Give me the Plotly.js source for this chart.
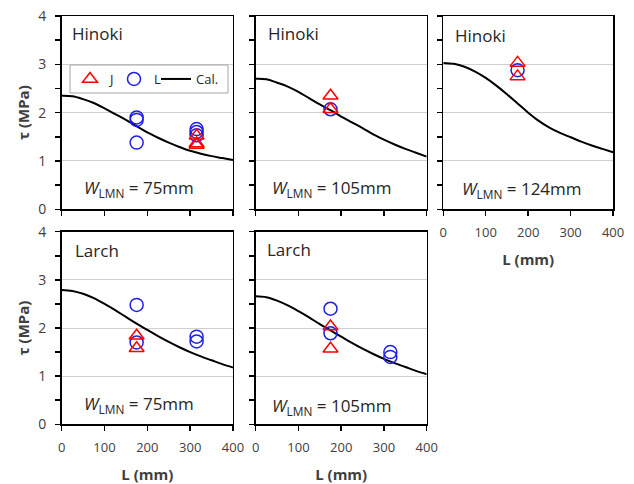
<!DOCTYPE html>
<html>
<head>
<meta charset="utf-8">
<script src="https://cdn.plot.ly/plotly-3.0.1.min.js"></script>
<style>html,body{margin:0;padding:0;background:#fff;}#chart{width:634px;height:484px;}</style>
</head>
<body>
<div id="chart"></div>
<script>
// ---- data ----
var L_calc = [0,25,50,75,100,125,150,175,200,225,250,275,300,325,350,375,400];
var calc_H75  = [2.35,2.34,2.28,2.20,2.09,1.97,1.85,1.72,1.59,1.48,1.38,1.29,1.21,1.15,1.10,1.06,1.02];
var calc_H105 = [2.70,2.69,2.62,2.54,2.43,2.30,2.17,2.05,1.92,1.80,1.68,1.55,1.44,1.34,1.25,1.17,1.09];
var calc_H124 = [3.03,3.01,2.95,2.85,2.72,2.56,2.38,2.19,2.00,1.83,1.69,1.58,1.49,1.40,1.32,1.25,1.18];
var calc_L75  = [2.79,2.77,2.71,2.62,2.50,2.37,2.23,2.09,1.96,1.83,1.71,1.60,1.50,1.41,1.33,1.25,1.18];
var calc_L105 = [2.66,2.64,2.57,2.47,2.35,2.22,2.08,1.95,1.82,1.69,1.57,1.46,1.36,1.27,1.19,1.11,1.04];

var J_H75_x = [315,315,315],        J_H75_y = [1.52,1.36,1.33];
var L_H75_x = [175,175,175,315,315,315], L_H75_y = [1.90,1.85,1.38,1.66,1.60,1.53];
var J_H105_x = [175,175],           J_H105_y = [2.35,2.07];
var L_H105_x = [175],               L_H105_y = [2.07];
var J_H124_x = [175,175],           J_H124_y = [3.03,2.75];
var L_H124_x = [175],               L_H124_y = [2.88];
var J_L75_x = [175,175],            J_L75_y = [1.84,1.58];
var L_L75_x = [175,175,315,315],    L_L75_y = [2.48,1.70,1.82,1.72];
var J_L105_x = [175,175],           J_L105_y = [2.03,1.57];
var L_L105_x = [175,175,315,315],   L_L105_y = [2.40,1.89,1.50,1.40];

var species = ["Hinoki","Hinoki","Hinoki","Larch","Larch"];
var widths = ["75mm","105mm","124mm","75mm","105mm"];
var tickVals = [0,100,200,300,400];
var yTickVals = [0,1,2,3,4];
var legendNames = ["J","L","Cal."];

// ---- build ----
var panels = [
  {J:[J_H75_x,J_H75_y], L:[L_H75_x,L_H75_y], C:calc_H75},
  {J:[J_H105_x,J_H105_y], L:[L_H105_x,L_H105_y], C:calc_H105},
  {J:[J_H124_x,J_H124_y], L:[L_H124_x,L_H124_y], C:calc_H124},
  {J:[J_L75_x,J_L75_y], L:[L_L75_x,L_L75_y], C:calc_L75},
  {J:[J_L105_x,J_L105_y], L:[L_L105_x,L_L105_y], C:calc_L105}
];
var FONT = "Open Sans, DejaVu Sans, sans-serif";
var traces = [];
panels.forEach(function(p,i){
  var xa = i===0 ? 'x' : 'x'+(i+1);
  var ya = i===0 ? 'y' : 'y'+(i+1);
  traces.push({x:L_calc, y:p.C, xaxis:xa, yaxis:ya, mode:'lines', name:legendNames[2],
    line:{color:'#000', width:2, shape:'spline'}, showlegend:i===0, legend:'legend3'});
  traces.push({x:p.L[0], y:p.L[1], xaxis:xa, yaxis:ya, mode:'markers', name:legendNames[1],
    marker:{symbol:'circle-open', size:13, color:'#1f1fe6', line:{width:1.5}}, showlegend:i===0, legend:'legend2'});
  traces.push({x:p.J[0], y:p.J[1], xaxis:xa, yaxis:ya, mode:'markers', name:legendNames[0],
    marker:{symbol:'triangle-up-open', size:13, color:'#ff0000', line:{width:1.5}}, showlegend:i===0, legend:'legend'});
});

var xDom = [[0.0973,0.3675],[0.4033,0.6730],[0.6992,0.9670],[0.0973,0.3675],[0.4033,0.6730]];
var yDom = [[0.5676,0.9669],[0.5676,0.9669],[0.5676,0.9669],[0.1233,0.5213],[0.1233,0.5213]];
var showX = [false,false,true,true,true];
var showY = [true,false,false,true,false];

function legendAt(px){
  return {orientation:'h', x:px/634, y:1-79/484, xanchor:'left', yanchor:'middle',
    bgcolor:'rgba(0,0,0,0)', borderwidth:0, font:{size:13, color:'#262626'}, itemwidth:30};
}
var layout = {
  width:634, height:484, margin:{l:0,r:0,t:0,b:0},
  paper_bgcolor:'#fff', plot_bgcolor:'#fff',
  font:{family:FONT, color:'#404040', size:13},
  showlegend:true,
  legend:legendAt(70), legend2:legendAt(114), legend3:legendAt(156),
  shapes:[{type:'rect', xref:'paper', yref:'paper', x0:70/634, x1:228/634, y0:1-93/484, y1:1-65/484,
    line:{color:'#a6a6a6', width:1}, fillcolor:'#fff', layer:'above'}],
  annotations:[]
};
var spX = [0.049,0.06,0.055,0.064,0.054];
var spY = [0.91,0.91,0.90,0.90,0.905];
var wX = [0.12,0.084,0.10,0.117,0.084];
var wY = [0.105,0.11,0.10,0.105,0.09];
for (var i=0;i<5;i++){
  var xk = i===0 ? 'xaxis' : 'xaxis'+(i+1);
  var yk = i===0 ? 'yaxis' : 'yaxis'+(i+1);
  var xa = i===0 ? 'x' : 'x'+(i+1);
  var ya = i===0 ? 'y' : 'y'+(i+1);
  layout[xk] = {domain:xDom[i], anchor:ya, range:[0,400], tickvals:tickVals,
    ticks:'outside', ticklen:5, tickwidth:1.5, tickcolor:'#000',
    showticklabels:showX[i], ticklabelstandoff:6, tickfont:{size:13,color:'#404040'},
    showline:true, linecolor:'#000', linewidth:1.5, mirror:true, showgrid:false, zeroline:false,
    fixedrange:true, automargin:false,
    title: showX[i] ? {text:'<b>L (mm)</b>', font:{size:15,color:'#404040'}, standoff:14} : {text:''}};
  layout[yk] = {domain:yDom[i], anchor:xa, range:[0,4], tickvals:yTickVals,
    ticks:'outside', ticklen:5, tickwidth:1.5, tickcolor:'#000',
    minor:{dtick:0.5, tick0:0, ticks:'outside', ticklen:5, tickwidth:1.5, tickcolor:'#000', showgrid:false},
    showticklabels:showY[i], ticklabelstandoff:6, tickfont:{size:14,color:'#404040'},
    showline:true, linecolor:'#000', linewidth:1.5, mirror:true,
    showgrid:true, gridcolor:'#d0d0d0', gridwidth:1, zeroline:false,
    fixedrange:true, automargin:false,
    title: showY[i] ? {text:'<b>τ (MPa)</b>', font:{size:15,color:'#404040'}, standoff:5} : {text:''}};
  layout.annotations.push({xref:xa+' domain', yref:ya+' domain', x:spX[i], y:spY[i],
    xanchor:'left', yanchor:'middle', showarrow:false, text:species[i],
    font:{size:17,color:'#262626',family:FONT}});
  layout.annotations.push({xref:xa+' domain', yref:ya+' domain', x:wX[i], y:wY[i],
    xanchor:'left', yanchor:'middle', showarrow:false,
    text:'<i>W</i><sub>LMN</sub> = '+widths[i],
    font:{size:17,color:'#262626',family:FONT}});
}
Plotly.newPlot('chart', traces, layout, {staticPlot:true, displayModeBar:false});
</script>
</body>
</html>
